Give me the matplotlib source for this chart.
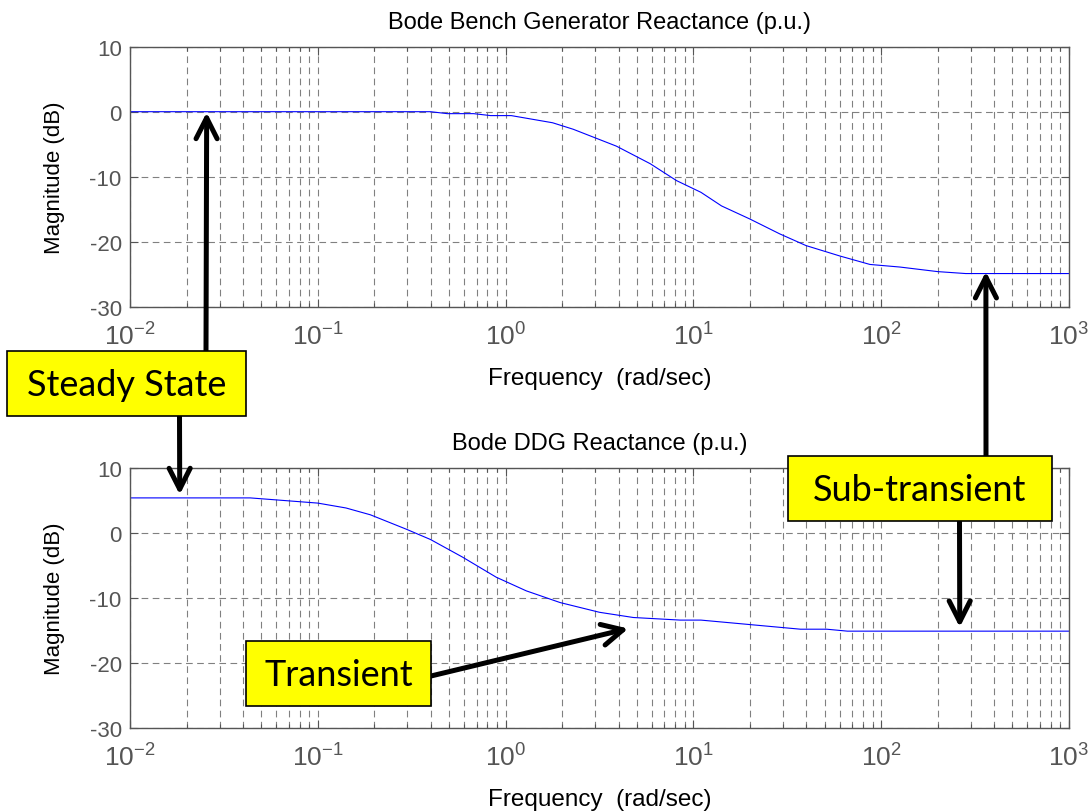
import matplotlib
matplotlib.use("Agg")
import matplotlib.pyplot as plt
from matplotlib.patches import Rectangle
import numpy as np
from matplotlib.ticker import LogLocator, NullFormatter

plt.rcParams['font.family'] = ['Liberation Sans', 'DejaVu Sans']
plt.rcParams['mathtext.fontset'] = 'custom'
plt.rcParams['mathtext.rm'] = 'Liberation Sans'
plt.rcParams['mathtext.it'] = 'Liberation Sans:italic'
plt.rcParams['axes.unicode_minus'] = False

# ---- data ----
top_title = "Bode Bench Generator Reactance (p.u.)"
bot_title = "Bode DDG Reactance (p.u.)"
xlabel = "Frequency  (rad/sec)"
ylabel = "Magnitude (dB)"

top_logw = [-2.0, -0.40, -0.31, -0.17, -0.08, 0.03, 0.25, 0.36, 0.59, 0.77, 0.91,
            1.04, 1.15, 1.30, 1.46, 1.60, 1.78, 1.94, 2.10, 2.30, 2.45, 3.0]
top_mag = [0.0, 0.0, -0.3, -0.3, -0.6, -0.6, -1.7, -2.7, -5.3, -8.0, -10.6,
           -12.4, -14.5, -16.5, -18.8, -20.6, -22.2, -23.5, -23.9, -24.6, -24.9, -24.9]

bot_logw = [-2.0, -1.36, -1.18, -1.0, -0.85, -0.72, -0.53, -0.40, -0.23, -0.05, 0.11,
            0.29, 0.50, 0.68, 0.93, 1.04, 1.57, 1.71, 1.82, 3.0]
bot_mag = [5.4, 5.4, 5.0, 4.6, 3.85, 2.8, 0.6, -1.0, -3.7, -6.8, -8.9,
           -10.7, -12.2, -13.0, -13.4, -13.4, -14.8, -14.8, -15.1, -15.1]

yticks = [-30, -20, -10, 0, 10]
xlim = (1e-2, 1e3)

labels = ["Steady State", "Transient", "Sub-transient"]

# ---- figure ----
W, H = 1089, 812
fig = plt.figure(figsize=(W / 100, H / 100), dpi=100)

def fx(px):
    return px / W

def fy(py):
    return 1 - py / H

AX_L, AX_R = 130, 1069
ax_top = fig.add_axes([fx(AX_L), fy(307.7), fx(AX_R) - fx(AX_L), fy(47.7) - fy(307.7)])
ax_bot = fig.add_axes([fx(AX_L), fy(729), fx(AX_R) - fx(AX_L), fy(469) - fy(729)])
AX_H = 260.3

grid_kw = dict(color='#808080', linewidth=0.8, linestyle=(0, (6, 4)))

for ax, lw, mag, title in [(ax_top, top_logw, top_mag, top_title),
                            (ax_bot, bot_logw, bot_mag, bot_title)]:
    ax.plot(10 ** np.array(lw), mag, color='#0000ff', linewidth=0.8)
    ax.set_xscale('log')
    ax.set_xlim(*xlim)
    ax.set_ylim(-30, 10)
    ax.set_yticks(yticks)
    ax.set_yticklabels([str(t) for t in yticks])
    ax.xaxis.set_major_locator(LogLocator(base=10, numticks=10))
    ax.xaxis.set_minor_locator(LogLocator(base=10, subs=np.arange(2, 10), numticks=100))
    ax.xaxis.set_minor_formatter(NullFormatter())
    ax.grid(True, which='major', axis='both', **grid_kw)
    ax.grid(True, which='minor', axis='x', **grid_kw)
    ax.tick_params(which='both', direction='in', top=True, right=True,
                   colors='#555555', labelsize=16, labelcolor='#555555')
    ax.tick_params(which='major', length=6, width=0.8)
    ax.tick_params(which='minor', length=3, width=0.8)
    ax.tick_params(axis='x', pad=11, labelsize=19)
    ax.tick_params(axis='y', pad=6)
    for s in ax.spines.values():
        s.set_color('#555555')
        s.set_linewidth(1.0)
    ax.text(0.5, 1 + 19 / AX_H, title, fontsize=17, ha='center', va='baseline',
            transform=ax.transAxes)
    ax.set_xlabel(xlabel, fontsize=17.5, va='top')
    ax.xaxis.set_label_coords(0.5, -60 / AX_H)
    ax.set_ylabel(ylabel, fontsize=16)
    ax.yaxis.set_label_coords(-65 / (AX_R - AX_L), 0.5)

# ---- annotation boxes ----
boxes = [(7, 352, 246, 417), (246, 642, 431, 707), (788, 457, 1052, 522)]
for (x0, y0, x1, y1), lab in zip(boxes, labels):
    fig.patches.append(Rectangle((fx(x0), fy(y1)), fx(x1) - fx(x0), fy(y0) - fy(y1),
                                 transform=fig.transFigure, facecolor='#ffff00',
                                 edgecolor='black', linewidth=1.2, zorder=5))
    fig.text(fx((x0 + x1) / 2), fy((y0 + y1) / 2 + 1), lab, fontsize=26,
             family=['Lato', 'DejaVu Sans'], ha='center', va='center', zorder=6)

arrow_kw = dict(arrowstyle='->,head_length=0.75,head_width=0.38', color='black',
                linewidth=3.6, mutation_scale=20, shrinkA=0, shrinkB=0)

# Steady state arrows
ax_top.annotate('', xy=(0.0256, -0.1), xycoords='data',
                xytext=(fx(206), fy(352)), textcoords='figure fraction', arrowprops=arrow_kw)
ax_bot.annotate('', xy=(0.0184, 5.9), xycoords='data',
                xytext=(fx(179.5), fy(417)), textcoords='figure fraction', arrowprops=arrow_kw)
# Transient arrow
ax_bot.annotate('', xy=(4.5, -14.7), xycoords='data',
                xytext=(fx(431), fy(677)), textcoords='figure fraction', arrowprops=arrow_kw)
# Sub-transient arrows
ax_top.annotate('', xy=(361, -24.6), xycoords='data',
                xytext=(fx(986), fy(457)), textcoords='figure fraction', arrowprops=arrow_kw)
ax_bot.annotate('', xy=(262, -14.5), xycoords='data',
                xytext=(fx(959.5), fy(522)), textcoords='figure fraction', arrowprops=arrow_kw)

fig.savefig('out.png', dpi=100)
